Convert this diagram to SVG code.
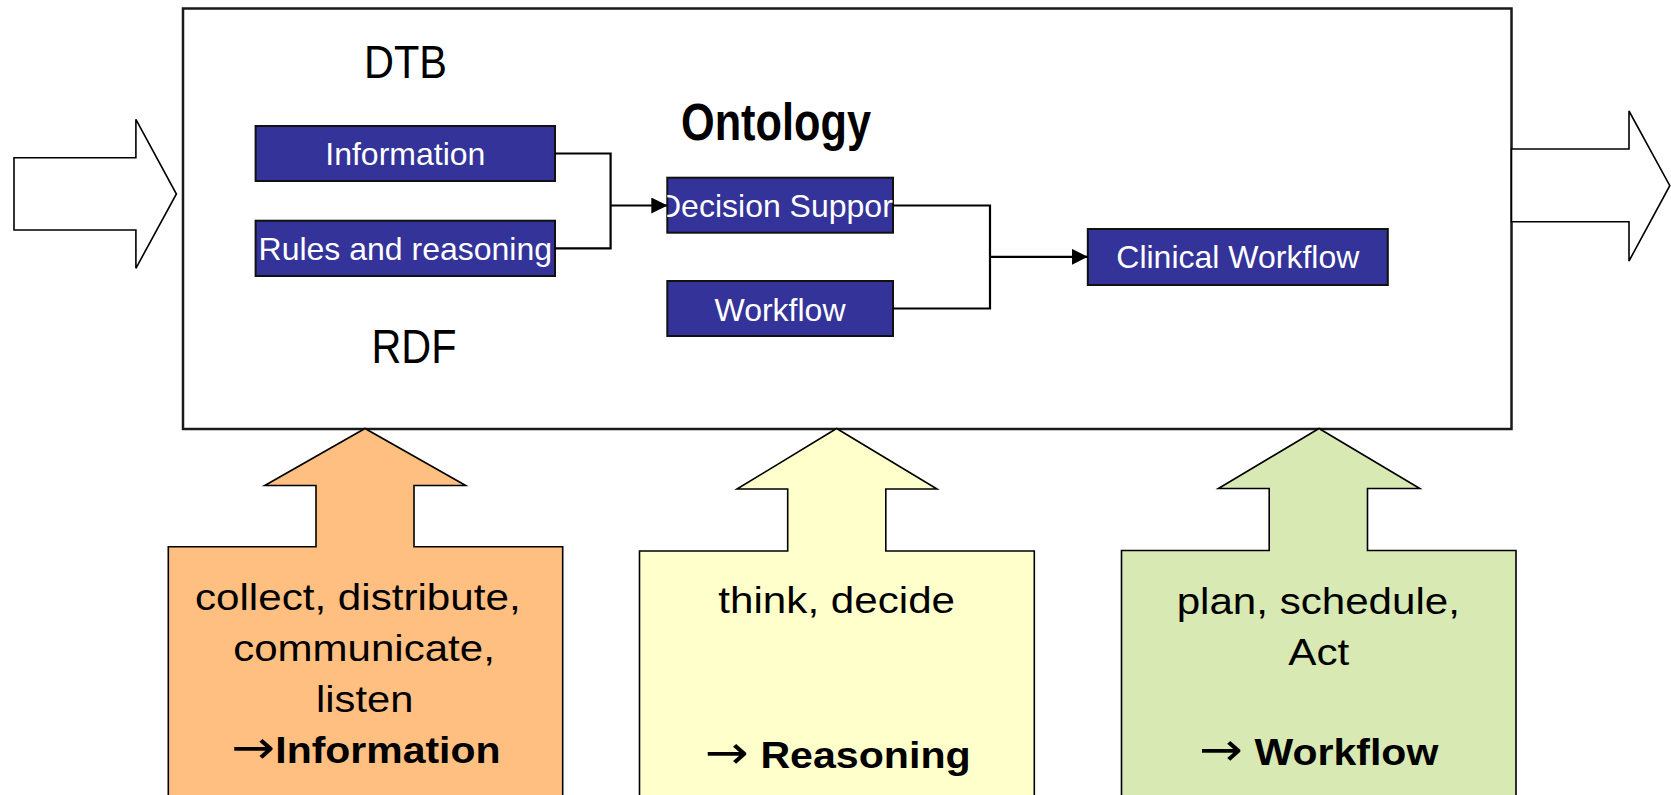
<svg xmlns="http://www.w3.org/2000/svg" width="1671" height="795" viewBox="0 0 1671 795">
<style>
.big{font-family:"Liberation Sans",Arial,sans-serif;fill:#000;}
.lbl{font-family:"Liberation Sans",Arial,sans-serif;font-size:32px;fill:#fff;}
.btxt{font-family:"Liberation Sans",Arial,sans-serif;font-size:36px;fill:#000;text-anchor:middle;}
.bold{font-weight:bold;}
.arr{font-family:"DejaVu Sans",sans-serif;font-weight:normal;font-size:46px;}
.blue{fill:#333399;stroke:#111;stroke-width:2;}
.fat{fill:#fff;stroke:#000;stroke-width:1.6;}
.conn{fill:none;stroke:#000;stroke-width:2.2;}
</style>
<defs>
<marker id="ah" viewBox="0 0 10 10" refX="10" refY="5" markerWidth="16" markerHeight="16" markerUnits="userSpaceOnUse" orient="auto">
<path d="M0,0 L10,5 L0,10 z" fill="#000"/>
</marker>
<clipPath id="clipDS"><rect x="667.3" y="177.7" width="225.7" height="55"/></clipPath>
</defs>
<rect width="1671" height="795" fill="#fff"/>

<g id="main-box">
<rect x="183" y="8.5" width="1328.5" height="420.5" fill="#fff" stroke="#1a1a1a" stroke-width="2.5"/>
<text class="big" x="405.5" y="77.5" font-size="47" text-anchor="middle" textLength="83" lengthAdjust="spacingAndGlyphs">DTB</text>
<text class="big" x="414" y="363" font-size="48" text-anchor="middle" textLength="85" lengthAdjust="spacingAndGlyphs">RDF</text>
<text class="big bold" x="776" y="140" font-size="51" text-anchor="middle" textLength="190" lengthAdjust="spacingAndGlyphs">Ontology</text>
</g>

<g id="input-arrow">
<polygon class="fat" points="14,157.7 135.9,157.7 135.9,119.3 176.4,194 135.9,268.3 135.9,230 14,230"/>
</g>
<g id="output-arrow">
<polygon class="fat" points="1511.5,149 1629,149 1629,111 1669.8,185.7 1629,261 1629,221.7 1511.5,221.7"/>
</g>

<g id="information">
<rect class="blue" x="255.6" y="126" width="299.4" height="55"/>
<text class="lbl" x="405.3" y="165" text-anchor="middle">Information</text>
</g>
<g id="rules">
<rect class="blue" x="255.6" y="220.7" width="299.4" height="55.3"/>
<text class="lbl" x="405.3" y="259.5" text-anchor="middle">Rules and reasoning</text>
</g>
<g id="decision-support">
<rect class="blue" x="667.3" y="177.7" width="225.7" height="55"/>
<text class="lbl" x="658" y="216.7" clip-path="url(#clipDS)">Decision Suppor</text>
</g>
<g id="workflow">
<rect class="blue" x="667.3" y="281" width="225.7" height="55"/>
<text class="lbl" x="780" y="320.7" text-anchor="middle">Workflow</text>
</g>
<g id="clinical-workflow">
<rect class="blue" x="1087.8" y="229" width="300" height="56"/>
<text class="lbl" x="1237.8" y="268.3" text-anchor="middle">Clinical Workflow</text>
</g>

<g id="connectors">
<path class="conn" d="M555,153.5 H610.6 V248.3 H555"/>
<path class="conn" d="M610.6,205.5 H667.3" marker-end="url(#ah)"/>
<path class="conn" d="M893,205.5 H990 V308.5 H893"/>
<path class="conn" d="M990,256.8 H1087.8" marker-end="url(#ah)"/>
</g>

<g id="information-input">
<polygon points="168.3,546.7 316,546.7 316,485.5 264.8,485.5 365,428.5 465.7,485.5 414,485.5 414,546.7 562.7,546.7 562.7,800 168.3,800" fill="#FFBF80" stroke="#000" stroke-width="1.6"/>
<text class="btxt" x="357.8" y="610" textLength="325.7" lengthAdjust="spacingAndGlyphs">collect, distribute,</text>
<text class="btxt" x="364" y="660.7" textLength="261.7" lengthAdjust="spacingAndGlyphs">communicate,</text>
<text class="btxt" x="364.7" y="712.3" textLength="97.3" lengthAdjust="spacingAndGlyphs">listen</text>
<text class="btxt bold" x="366" y="762.7" textLength="269" lengthAdjust="spacingAndGlyphs"><tspan class="arr">→</tspan>Information</text>
</g>

<g id="reasoning-input">
<polygon points="639.5,551 787.7,551 787.7,489 737,489 836.6,428.5 937,489 885.8,489 885.8,551 1034.3,551 1034.3,800 639.5,800" fill="#FFFFCC" stroke="#000" stroke-width="1.6"/>
<text class="btxt" x="836.7" y="613.3" textLength="236.7" lengthAdjust="spacingAndGlyphs">think, decide</text>
<text class="btxt bold" x="837.8" y="768.3" textLength="265.7" lengthAdjust="spacingAndGlyphs"><tspan class="arr">→</tspan> Reasoning</text>
</g>

<g id="workflow-input">
<polygon points="1121.5,550.5 1269.2,550.5 1269.2,488.5 1218.4,488.5 1319,428.5 1419.8,488.5 1367.5,488.5 1367.5,550.5 1516,550.5 1516,800 1121.5,800" fill="#D8E9B3" stroke="#000" stroke-width="1.6"/>
<text class="btxt" x="1318.3" y="614" textLength="283.3" lengthAdjust="spacingAndGlyphs">plan, schedule,</text>
<text class="btxt" x="1318.8" y="665" textLength="61" lengthAdjust="spacingAndGlyphs">Act</text>
<text class="btxt bold" x="1318.8" y="765" textLength="239" lengthAdjust="spacingAndGlyphs"><tspan class="arr">→</tspan> Workflow</text>
</g>
</svg>
